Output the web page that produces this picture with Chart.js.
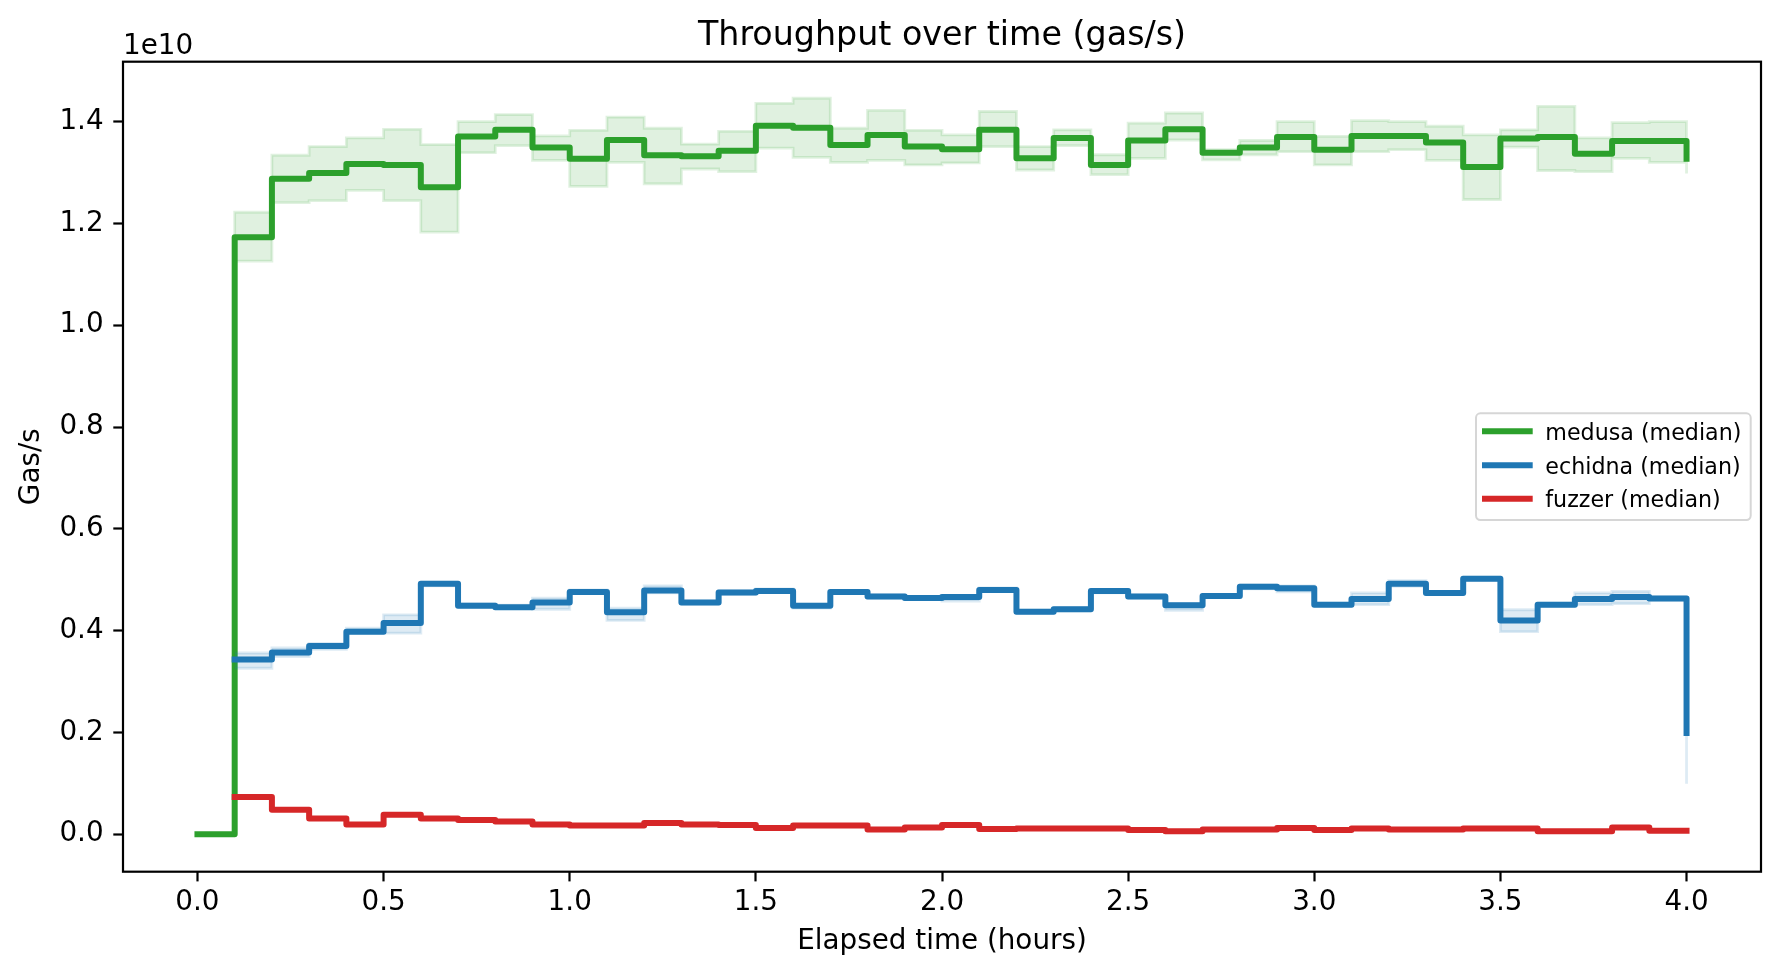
<!DOCTYPE html>
<html>
<head>
<meta charset="utf-8">
<script src="https://cdn.jsdelivr.net/npm/chart.js@4.4.1/dist/chart.umd.min.js"></script>
<style>
html,body{margin:0;padding:0;background:#ffffff;}
canvas{display:block;}
</style>
</head>
<body>
<canvas id="chart" width="1780" height="978" style="width:1780px;height:978px"></canvas>
<script>
// ---- data (values in units of 1e10 gas/s) ----
const timeHours = [0.0,0.1,0.2,0.3,0.4,0.5,0.6,0.7,0.8,0.9,1.0,1.1,1.2,1.3,1.4,1.5,1.6,1.7,1.8,1.9,2.0,2.1,2.2,2.3,2.4,2.5,2.6,2.7,2.8,2.9,3.0,3.1,3.2,3.3,3.4,3.5,3.6,3.7,3.8,3.9,4.0];

const medusaMedian = [0,1.173,1.288,1.299,1.317,1.315,1.271,1.371,1.384,1.349,1.327,1.364,1.334,1.332,1.343,1.392,1.388,1.354,1.374,1.351,1.346,1.384,1.328,1.368,1.315,1.363,1.385,1.339,1.349,1.370,1.345,1.372,1.372,1.359,1.311,1.367,1.370,1.337,1.362,1.362,1.327];
const medusaUpper  = [0,1.222,1.334,1.351,1.368,1.385,1.355,1.400,1.414,1.372,1.383,1.409,1.387,1.356,1.381,1.436,1.446,1.387,1.422,1.383,1.374,1.420,1.351,1.384,1.335,1.397,1.417,1.345,1.363,1.400,1.371,1.402,1.400,1.391,1.374,1.384,1.430,1.368,1.398,1.400,1.345];
const medusaLower  = [0,1.126,1.241,1.245,1.265,1.245,1.183,1.339,1.353,1.324,1.273,1.320,1.278,1.307,1.302,1.348,1.330,1.320,1.324,1.315,1.319,1.351,1.305,1.353,1.296,1.328,1.364,1.325,1.335,1.341,1.315,1.341,1.345,1.324,1.247,1.350,1.304,1.302,1.328,1.320,1.298];

const echidnaMedian = [null,0.343,0.357,0.370,0.398,0.415,0.492,0.449,0.446,0.455,0.476,0.436,0.479,0.455,0.475,0.478,0.449,0.476,0.467,0.464,0.466,0.480,0.437,0.442,0.478,0.467,0.450,0.468,0.486,0.483,0.451,0.462,0.492,0.474,0.502,0.420,0.451,0.462,0.466,0.463,0.199];
const echidnaUpper  = [null,0.356,0.366,0.375,0.405,0.431,0.495,0.453,0.450,0.464,0.480,0.444,0.488,0.458,0.478,0.482,0.452,0.479,0.470,0.467,0.469,0.484,0.440,0.445,0.481,0.470,0.453,0.471,0.490,0.488,0.454,0.474,0.498,0.477,0.505,0.441,0.454,0.474,0.477,0.466,0.205];
const echidnaLower  = [null,0.326,0.349,0.363,0.395,0.395,0.488,0.446,0.443,0.442,0.473,0.420,0.474,0.452,0.471,0.475,0.444,0.473,0.464,0.461,0.458,0.477,0.434,0.439,0.474,0.464,0.440,0.465,0.482,0.476,0.448,0.451,0.487,0.471,0.499,0.398,0.448,0.451,0.453,0.460,0.099];

const fuzzerMedian = [null,0.073,0.048,0.031,0.019,0.038,0.031,0.028,0.025,0.019,0.017,0.017,0.022,0.019,0.018,0.012,0.017,0.017,0.009,0.013,0.018,0.010,0.011,0.011,0.011,0.008,0.006,0.009,0.009,0.012,0.008,0.011,0.009,0.009,0.011,0.011,0.006,0.006,0.013,0.007,0.007];

const xTickValues = [0.0,0.5,1.0,1.5,2.0,2.5,3.0,3.5,4.0];
const yTickValues = [0.0,0.2,0.4,0.6,0.8,1.0,1.2,1.4];

const seriesLabels = ['medusa (median)','echidna (median)','fuzzer (median)'];
const seriesColors = ['#2ca02c','#1f77b4','#d62728'];

// ---- chart ----
const FONT = '"DejaVu Sans", "Liberation Sans", sans-serif';
const LW = 6;
const STEP = 'before'; // horizontal at the current value, then vertical at the next x
const pts = arr => timeHours.map((t,i)=>({x:t, y:arr[i]}));
function rgba(hex,a){const n=parseInt(hex.slice(1),16);return `rgba(${n>>16},${(n>>8)&255},${n&255},${a})`;}

function bandLower(arr,color,order){
  return {data:pts(arr),borderColor:rgba(color,0.15),borderWidth:2.8,backgroundColor:'transparent',
    pointRadius:0,stepped:STEP,fill:false,order:order,borderJoinStyle:'miter'};
}
function bandUpper(arr,color,order){
  return {data:pts(arr),borderColor:rgba(color,0.15),borderWidth:2.8,backgroundColor:rgba(color,0.15),
    pointRadius:0,stepped:STEP,fill:'-1',order:order,borderJoinStyle:'miter'};
}
function medLine(arr,color,order,label){
  return {label:label,data:pts(arr),borderColor:color,borderWidth:LW,backgroundColor:color,
    pointRadius:0,stepped:STEP,fill:false,order:order,borderJoinStyle:'round',borderCapStyle:'square'};
}

const datasets = [
  bandLower(medusaLower,seriesColors[0],10),
  bandUpper(medusaUpper,seriesColors[0],9),
  medLine(medusaMedian,seriesColors[0],8,seriesLabels[0]),
  bandLower(echidnaLower,seriesColors[1],7),
  bandUpper(echidnaUpper,seriesColors[1],6),
  medLine(echidnaMedian,seriesColors[1],5,seriesLabels[1]),
  medLine(fuzzerMedian,seriesColors[2],4,seriesLabels[2])
];

const decorPlugin = {
  id:'decor',
  afterDatasetsDraw(chart){
    const {ctx, chartArea:a} = chart;
    ctx.save();
    // axes frame
    ctx.strokeStyle='#000'; ctx.lineWidth=2.2;
    ctx.strokeRect(a.left,a.top,a.right-a.left,a.bottom-a.top);
    // title
    ctx.fillStyle='#000';
    ctx.textBaseline='alphabetic';
    ctx.textAlign='center';
    ctx.font='33.3px '+FONT;
    ctx.fillText('Throughput over time (gas/s)',(a.left+a.right)/2,45);
    // offset text
    ctx.textAlign='left';
    ctx.font='27.8px '+FONT;
    ctx.fillText('1e10',a.left,53.5);
    // legend
    const lx0=1476, lx1=1750.7, ly0=413.3, ly1=520, r=4.4;
    ctx.beginPath();
    ctx.moveTo(lx0+r,ly0);ctx.lineTo(lx1-r,ly0);ctx.arcTo(lx1,ly0,lx1,ly0+r,r);
    ctx.lineTo(lx1,ly1-r);ctx.arcTo(lx1,ly1,lx1-r,ly1,r);
    ctx.lineTo(lx0+r,ly1);ctx.arcTo(lx0,ly1,lx0,ly1-r,r);
    ctx.lineTo(lx0,ly0+r);ctx.arcTo(lx0,ly0,lx0+r,ly0,r);ctx.closePath();
    ctx.fillStyle='rgba(255,255,255,0.8)';ctx.fill();
    ctx.strokeStyle='#d6d6d6';ctx.lineWidth=2;ctx.stroke();
    const rows=[431.3,465.3,498.7];
    ctx.font='22.2px '+FONT;
    for(let i=0;i<3;i++){
      ctx.strokeStyle=seriesColors[i];ctx.lineWidth=LW;ctx.lineCap='square';
      ctx.beginPath();ctx.moveTo(1485,rows[i]);ctx.lineTo(1529.7,rows[i]);ctx.stroke();
      ctx.fillStyle='#000';ctx.textAlign='left';
      ctx.fillText(seriesLabels[i],1545.3,rows[i]+8.4);
    }
    ctx.restore();
  }
};

Chart.defaults.font.family = FONT;
new Chart(document.getElementById('chart'),{
  type:'line',
  data:{datasets:datasets},
  options:{
    responsive:false,
    devicePixelRatio:1,
    animation:false,
    layout:{padding:{left:0,right:19,top:61.7,bottom:0}},
    plugins:{legend:{display:false},tooltip:{enabled:false},title:{display:false}},
    scales:{
      x:{
        type:'linear',position:'bottom',min:-0.2,max:4.2,
        grid:{drawOnChartArea:false,drawTicks:true,tickLength:9.7,tickWidth:2.2,tickColor:'#000'},
        border:{display:false},
        ticks:{color:'#000',font:{size:27.8},padding:4.5,autoSkip:false,maxRotation:0,
          callback:v=>Number(v).toFixed(1)},
        afterBuildTicks:s=>{s.ticks=xTickValues.map(v=>({value:v}));},
        title:{display:true,text:'Elapsed time (hours)',color:'#000',font:{size:27.8},padding:{top:0,bottom:19.9}},
        afterFit:s=>{s.height=106.3;}
      },
      y:{
        type:'linear',position:'left',min:-0.0737,max:1.5178,
        grid:{drawOnChartArea:false,drawTicks:true,tickLength:9.7,tickWidth:2.2,tickColor:'#000'},
        border:{display:false},
        ticks:{color:'#000',font:{size:27.8},padding:9.7,autoSkip:false,
          callback:v=>Number(v).toFixed(1)},
        afterBuildTicks:s=>{s.ticks=yTickValues.map(v=>({value:v}));},
        title:{display:true,text:'Gas/s',color:'#000',font:{size:27.8},padding:{top:15.3,bottom:0}},
        afterFit:s=>{s.width=123;}
      }
    }
  },
  plugins:[decorPlugin]
});
</script>
</body>
</html>
